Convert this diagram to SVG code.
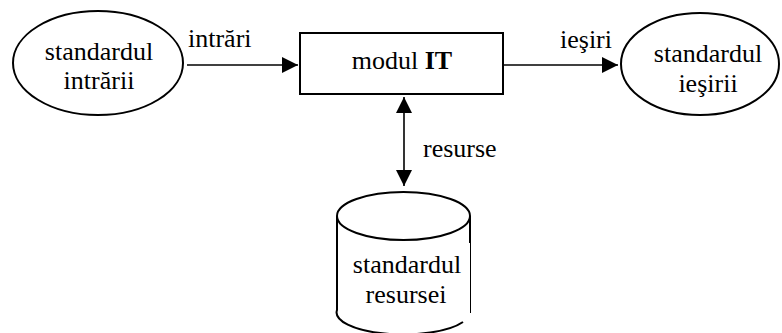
<svg xmlns="http://www.w3.org/2000/svg" width="782" height="333" viewBox="0 0 782 333">
<style>
text{font-family:"Liberation Serif","DejaVu Serif",serif;font-size:26px;fill:#000}
.c{text-anchor:middle}
.s{fill:none;stroke:#000;stroke-width:2}
.e{fill:none;stroke:#000;stroke-width:1.6}
</style>
<defs>
<marker id="ah" viewBox="0 0 16 16" refX="16" refY="8" markerWidth="16" markerHeight="16" markerUnits="userSpaceOnUse" orient="auto-start-reverse">
<path d="M0,0 L16,8 L0,16 Z" fill="#000"/>
</marker>
</defs>
<rect width="782" height="333" fill="#fff"/>
<g id="in">
<ellipse class="s" cx="98" cy="63" rx="85" ry="52"/>
<text class="c" x="99" y="60">standardul</text>
<text class="c" x="99" y="89">intrării</text>
</g>
<g id="mod">
<rect class="s" x="300" y="33" width="203" height="61"/>
<text class="c" x="402" y="69">modul <tspan font-weight="bold">IT</tspan></text>
</g>
<g id="out">
<ellipse class="s" cx="700" cy="64" rx="79" ry="51"/>
<text class="c" x="708" y="62">standardul</text>
<text class="c" x="708" y="92">ieşirii</text>
</g>
<g id="res">
<path class="s" d="M337,216 L337,310 A66.5,22 0 0 0 463,322"/>
<ellipse class="s" cx="403.5" cy="216" rx="66.5" ry="24"/>
<path class="s" d="M470,216 L470,243"/>
<path fill="none" stroke="#000" stroke-width="1" d="M470.5,243 L470.5,313"/>
<text class="c" x="407" y="273">standardul</text>
<text class="c" x="406" y="303">resursei</text>
</g>
<g id="connectors">
<line class="e" x1="187" y1="65" x2="298" y2="65" marker-end="url(#ah)"/>
<line class="e" x1="503" y1="65" x2="618" y2="65" marker-end="url(#ah)"/>
<line class="e" x1="404" y1="97" x2="404" y2="186" marker-start="url(#ah)" marker-end="url(#ah)"/>
<text x="188" y="47">intrări</text>
<text x="560" y="48">ieşiri</text>
<text x="423" y="157">resurse</text>
</g>
</svg>
